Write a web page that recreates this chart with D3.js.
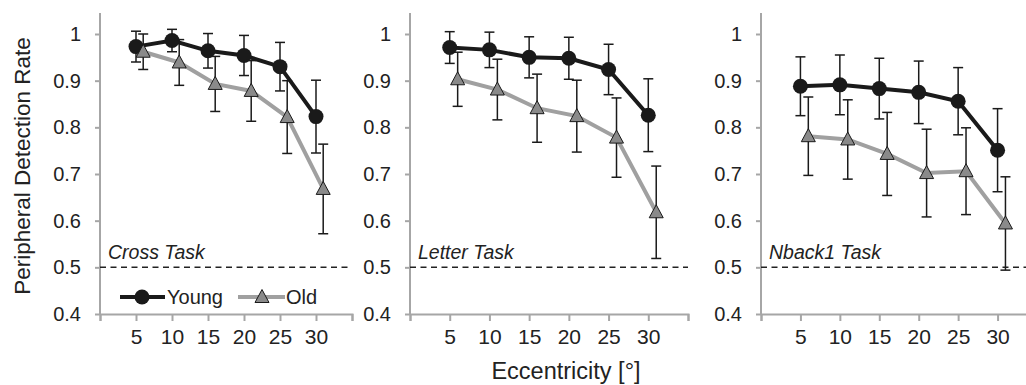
<!DOCTYPE html>
<html>
<head>
<meta charset="utf-8">
<script src="https://cdn.jsdelivr.net/npm/d3@7"></script>
<style>
  body { margin: 0; background: #fff; }
  svg { display: block; font-family: "Liberation Sans", Arial, sans-serif; }
</style>
</head>
<body>
<svg id="chart"></svg>
<script>
// Data
const eccentricity = [5, 10, 15, 20, 25, 30]
const oldEccentricity = [6, 11, 16, 21, 26, 31] // old group is plotted shifted by 1
const tasks = ["Cross Task", "Letter Task", "Nback1 Task"]
const xTicks = [0, 5, 10, 15, 20, 25, 30, 35]
const xTickLabels = ["", "5", "10", "15", "20", "25", "30", ""]
const yTicks = [0.4, 0.5, 0.6, 0.7, 0.8, 0.9, 1]
const chance = 0.5

const youngMean = [
  [0.973, 0.986, 0.964, 0.954, 0.930, 0.823],
  [0.971, 0.966, 0.950, 0.948, 0.924, 0.826],
  [0.888, 0.891, 0.883, 0.875, 0.856, 0.751]
]
const youngErr = [
  [0.033, 0.024, 0.037, 0.043, 0.052, 0.078],
  [0.034, 0.038, 0.044, 0.045, 0.054, 0.078],
  [0.063, 0.064, 0.065, 0.067, 0.072, 0.089]
]
const oldMean = [
  [0.962, 0.939, 0.893, 0.878, 0.822, 0.668],
  [0.903, 0.881, 0.841, 0.824, 0.778, 0.618],
  [0.781, 0.774, 0.743, 0.702, 0.706, 0.594]
]
const oldErr = [
  [0.038, 0.049, 0.059, 0.065, 0.078, 0.096],
  [0.058, 0.065, 0.073, 0.077, 0.085, 0.099],
  [0.084, 0.085, 0.089, 0.094, 0.093, 0.100]
]

const width = 1026
const height = 385
const svg = d3.select("#chart")
  .attr("width", width)
  .attr("height", height)

// pixel extents of each panel's x axis
const panelRanges = [[100, 352], [410, 688], [761, 1037]]
const axisColor = "#a6a6a6"
const textColor = "#222"

const y = d3.scaleLinear()
  .domain([0.4, 1.045])
  .range([314, 13])

tasks.forEach((task, i) => {
  const x = d3.scaleLinear()
    .domain([0, 35])
    .range(panelRanges[i])

  const g = svg.append("g")
  renderAxes(g, x)

  // chance level
  g.append("line")
    .attr("x1", x(0))
    .attr("x2", x(35))
    .attr("y1", y(chance))
    .attr("y2", y(chance))
    .attr("stroke", "#222")
    .attr("stroke-width", 1.5)
    .attr("stroke-dasharray", "6,4.5")

  g.append("text")
    .attr("x", x(0) + 8)
    .attr("y", 259)
    .attr("font-size", 19.5)
    .attr("font-style", "italic")
    .attr("fill", textColor)
    .text(task)

  const young = eccentricity.map((e, j) => ({ e, m: youngMean[i][j], err: youngErr[i][j] }))
  const old = oldEccentricity.map((e, j) => ({ e, m: oldMean[i][j], err: oldErr[i][j] }))

  renderSeries(g, x, young, "#1a1a1a", "circle")
  renderSeries(g, x, old, "#a0a0a0", "triangle")
})

function renderAxes(g, x) {
  g.append("g")
    .attr("transform", `translate(0, ${y(0.4)})`)
    .call(d3.axisBottom(x)
      .tickValues(xTicks)
      .tickSize(7)
      .tickPadding(8)
      .tickFormat((d, k) => xTickLabels[k]))
    .call(g => g.select(".domain").attr("stroke", axisColor).attr("stroke-width", 2))
    .call(g => g.selectAll(".tick line").attr("stroke", axisColor).attr("stroke-width", 2))
    .call(g => g.selectAll(".tick text")
      .attr("font-size", 21)
      .attr("font-family", "Liberation Sans, Arial, sans-serif")
      .attr("fill", textColor))

  g.append("g")
    .attr("transform", `translate(${x(0)}, 0)`)
    .call(d3.axisLeft(y)
      .tickValues(yTicks)
      .tickSize(5)
      .tickPadding(14)
      .tickFormat(d3.format("")))
    .call(g => g.select(".domain").attr("stroke", axisColor).attr("stroke-width", 2)
      .attr("d", `M0,${y(1.045)}V${y(0.4)}`))
    .call(g => g.selectAll(".tick line").attr("stroke", axisColor).attr("stroke-width", 2))
    .call(g => g.selectAll(".tick text")
      .attr("font-size", 20)
      .attr("font-family", "Liberation Sans, Arial, sans-serif")
      .attr("fill", textColor))
}

function renderSeries(g, x, data, color, shape) {
  const line = d3.line()
    .x(d => x(d.e))
    .y(d => y(d.m))

  g.append("path")
    .datum(data)
    .attr("d", line)
    .attr("fill", "none")
    .attr("stroke", color)
    .attr("stroke-width", 4)

  const bars = g.append("g")
    .selectAll("g")
    .data(data)
    .join("g")
    .attr("stroke", "#1a1a1a")
    .attr("stroke-width", 1.5)

  bars.append("line")
    .attr("x1", d => x(d.e)).attr("x2", d => x(d.e))
    .attr("y1", d => y(d.m + d.err)).attr("y2", d => y(d.m - d.err))
  bars.append("line")
    .attr("x1", d => x(d.e) - 5).attr("x2", d => x(d.e) + 5)
    .attr("y1", d => y(d.m + d.err)).attr("y2", d => y(d.m + d.err))
  bars.append("line")
    .attr("x1", d => x(d.e) - 5).attr("x2", d => x(d.e) + 5)
    .attr("y1", d => y(d.m - d.err)).attr("y2", d => y(d.m - d.err))

  const markers = g.append("g")
    .selectAll("g")
    .data(data)
    .join("g")
    .attr("transform", d => `translate(${x(d.e)}, ${y(d.m)})`)
  drawMarker(markers, shape)
}

function drawMarker(sel, shape) {
  if (shape === "circle") {
    sel.append("circle")
      .attr("r", 7.5)
      .attr("fill", "#1a1a1a")
  } else {
    sel.append("path")
      .attr("d", "M0,-7.5L7,5.5L-7,5.5Z")
      .attr("fill", "#8a8a8a")
      .attr("stroke", "#1a1a1a")
      .attr("stroke-width", 1)
  }
}

// legend in the first panel
const legend = svg.append("g").attr("transform", "translate(0, 297)")
legend.append("line")
  .attr("x1", 120).attr("x2", 165)
  .attr("stroke", "#1a1a1a").attr("stroke-width", 4)
drawMarker(legend.append("g").attr("transform", "translate(142, 0)"), "circle")
legend.append("text")
  .attr("x", 167).attr("y", 7)
  .attr("font-size", 20).attr("fill", textColor)
  .text("Young")
legend.append("line")
  .attr("x1", 238).attr("x2", 285)
  .attr("stroke", "#a0a0a0").attr("stroke-width", 4)
drawMarker(legend.append("g").attr("transform", "translate(262, 0)"), "triangle")
legend.append("text")
  .attr("x", 286).attr("y", 7)
  .attr("font-size", 20).attr("fill", textColor)
  .text("Old")

// axis titles
svg.append("text")
  .attr("transform", "translate(30, 166) rotate(-90)")
  .attr("text-anchor", "middle")
  .attr("font-size", 22.5)
  .attr("fill", textColor)
  .text("Peripheral Detection Rate")

svg.append("text")
  .attr("x", 566)
  .attr("y", 379)
  .attr("text-anchor", "middle")
  .attr("font-size", 23.5)
  .attr("fill", textColor)
  .text("Eccentricity [°]")
</script>
</body>
</html>
